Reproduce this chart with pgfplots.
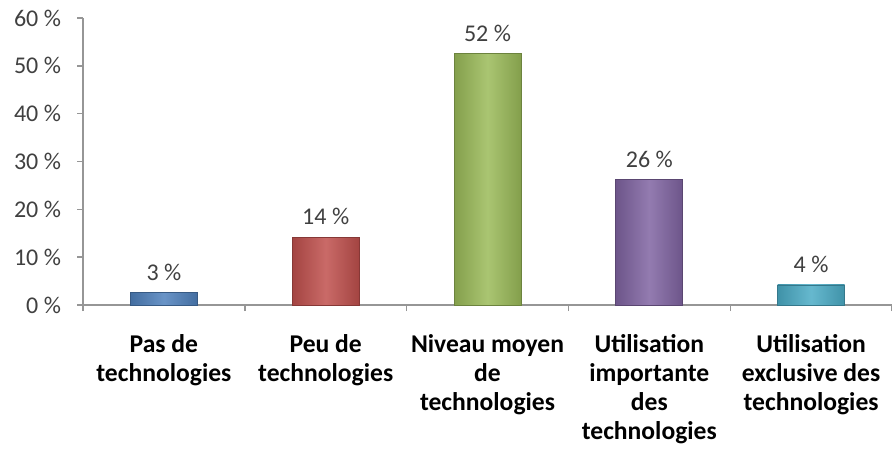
\documentclass[border=0pt]{standalone}
\usepackage{pgfplots}
\pgfplotsset{compat=1.18}
\usepackage{fontspec}
\setmainfont{Carlito}

\definecolor{cblue}{RGB}{79,129,189}
\definecolor{cred}{RGB}{192,80,77}
\definecolor{cgreen}{RGB}{155,187,89}
\definecolor{cpurple}{RGB}{128,100,162}
\definecolor{ccyan}{RGB}{75,172,198}
\definecolor{axgray}{RGB}{150,150,150}
\definecolor{txtgray}{RGB}{64,64,64}

\pgfplotsset{
  barstyle/.style={draw=#1!70!black, line width=0.4pt,
    left color=#1!85!black, right color=#1!85!black, middle color=#1!85!white},
}

\begin{document}
\begin{tikzpicture}
\useasboundingbox (-41.5pt,-73pt) rectangle (404.5pt,152.5pt);
\begin{axis}[at={(0pt,0pt)}, anchor=south west, scale only axis,
  width=404.5pt, height=143.5pt,
  xmin=-0.5, xmax=4.5, ymin=0, ymax=60,
  axis lines*=left,
  axis line style={axgray, line width=0.7pt},
  ybar, bar width=33.5pt, bar shift=0pt,
  ytick={0,10,...,60},
  yticklabel={\pgfmathprintnumber{\tick}~\%},
  /pgf/number format/assume math mode=true,
  yticklabel style={font=\fontsize{12}{14}\selectfont, text=txtgray, xshift=-4.5pt},
  xtick={-0.5,0.5,...,4.5}, xticklabels={},
  tick align=outside, major tick length=3pt,
  tick style={axgray, line width=0.7pt},
  extra x ticks={0,1,2,3,4},
  extra x tick labels={Pas de\\technologies, Peu de\\technologies,
    Niveau moyen\\de\\technologies, Utilisation\\importante\\des\\technologies,
    Utilisation\\exclusive des\\technologies},
  extra x tick style={major tick length=0pt,
    xticklabel style={font=\fontsize{12.8}{14.6}\selectfont\bfseries, text=black,
      align=center, yshift=-11pt}},
  nodes near coords, point meta=explicit symbolic,
  every node near coord/.append style={font=\fontsize{12}{14}\selectfont,
    text=txtgray, yshift=2.5pt},
]
\addplot[barstyle=cblue] coordinates {(0,2.6) [3~\%]};
\addplot[barstyle=cred] coordinates {(1,14.2) [14~\%]};
\addplot[barstyle=cgreen] coordinates {(2,52.5) [52~\%]};
\addplot[barstyle=cpurple] coordinates {(3,26.2) [26~\%]};
\addplot[barstyle=ccyan] coordinates {(4,4.2) [4~\%]};
\end{axis}
\end{tikzpicture}
\end{document}
